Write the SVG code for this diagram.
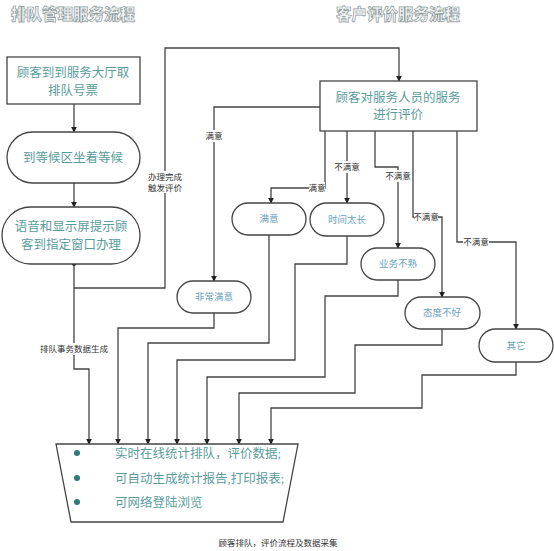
<svg xmlns="http://www.w3.org/2000/svg" width="554" height="551" viewBox="0 0 554 551">
<defs>
<marker id="ah" viewBox="0 0 8 8" refX="7" refY="4" markerWidth="6" markerHeight="6" orient="auto" markerUnits="userSpaceOnUse">
<path d="M0,0 L8,4 L0,8 z" fill="#222"/>
</marker>
<style>
.ln{fill:none;stroke:#444;stroke-width:1.3}
.arr{marker-end:url(#ah)}
.box{fill:#fff;stroke:#444;stroke-width:1.3}
.title{font-family:"Noto Sans CJK SC","Liberation Sans",sans-serif;font-size:15.5px;font-weight:900;fill:#f4f6f6;stroke:#8a9799;stroke-width:0.7}
.big{font-family:"Liberation Serif","Noto Sans CJK SC",serif;font-size:12.5px;fill:#5a9c9c;text-anchor:middle}
.sm{font-family:"Liberation Serif","Noto Sans CJK SC",serif;font-size:9.5px;fill:#6aa2c0;text-anchor:middle}
.lbl{font-family:"Liberation Serif","Noto Sans CJK SC",serif;font-size:8.5px;fill:#333;text-anchor:middle}
.bul{font-family:"Liberation Serif","Noto Sans CJK SC",serif;font-size:12.5px;fill:#5a9c9c}
.cap{font-family:"Liberation Serif","Noto Sans CJK SC",serif;font-size:8.5px;fill:#333;text-anchor:middle}
.lb{fill:#fff}
</style>
</defs>
<rect width="554" height="551" fill="#fff"/>

<text class="title" x="73" y="20" text-anchor="middle">排队管理服务流程</text>
<text class="title" x="398" y="20" text-anchor="middle">客户评价服务流程</text>

<g id="connectors">
<path class="ln arr" d="M74,104 V132"/>
<path class="ln arr" d="M74,183 V207"/>
<path class="ln arr" d="M74,264 V369 H89 V444"/>
<path class="ln arr" d="M74,288 H165 V48 H399 V81"/>
<path class="ln arr" d="M320,107 H214 V281"/>
<path class="ln arr" d="M325,131 V188 H271 V203"/>
<path class="ln arr" d="M347,131 V203"/>
<path class="ln arr" d="M375,131 V167 H398 V248"/>
<path class="ln arr" d="M413,131 V217 H442 V297"/>
<path class="ln arr" d="M457,131 V242 H516 V329"/>
<path class="ln arr" d="M214,313 V328 H118 V444"/>
<path class="ln arr" d="M269,235 V343 H148 V444"/>
<path class="ln arr" d="M347,236 V264 H295 V360 H177 V444"/>
<path class="ln arr" d="M398,280 V296 H325 V377 H207 V444"/>
<path class="ln arr" d="M442,329 V345 H355 V393 H239 V444"/>
<path class="ln arr" d="M516,362 V375 H422 V408 H271 V444"/>
<circle cx="74" cy="264" r="2" fill="#222"/>
<g id="labels">
<rect class="lb" x="152" y="171" width="26" height="22"/>
<text class="lbl" x="165" y="180">办理完成</text>
<text class="lbl" x="165" y="191">触发评价</text>
<rect class="lb" x="38" y="343" width="70" height="12"/>
<text class="lbl" x="74" y="352">排队事务数据生成</text>
<rect class="lb" x="205" y="130" width="18" height="12"/>
<text class="lbl" x="214" y="139">满意</text>
<rect class="lb" x="309" y="182" width="16" height="12"/>
<text class="lbl" x="317" y="191">满意</text>
<rect class="lb" x="334" y="161" width="26" height="12"/>
<text class="lbl" x="347" y="170">不满意</text>
<rect class="lb" x="385" y="170" width="26" height="12"/>
<text class="lbl" x="398" y="179">不满意</text>
<rect class="lb" x="414" y="211" width="24" height="12"/>
<text class="lbl" x="426" y="220">不满意</text>
<rect class="lb" x="463" y="236" width="26" height="12"/>
<text class="lbl" x="476" y="245">不满意</text>
</g>
</g>

<g id="n1"><rect class="box" x="7" y="57" width="133" height="47"/>
<text class="big" x="73" y="77">顾客到到服务大厅取</text>
<text class="big" x="73" y="95">排队号票</text></g>

<g id="n2"><rect class="box" x="7" y="132" width="133" height="51" rx="25.5"/>
<text class="big" x="73" y="162">到等候区坐着等候</text></g>

<g id="n3"><rect class="box" x="2" y="207" width="138" height="57" rx="28.5"/>
<text class="big" x="71" y="231">语音和显示屏提示顾</text>
<text class="big" x="71" y="249">客到指定窗口办理</text></g>

<g id="n4"><rect class="box" x="320" y="81" width="157" height="50"/>
<text class="big" x="398" y="102">顾客对服务人员的服务</text>
<text class="big" x="398" y="119">进行评价</text></g>

<g id="n5"><rect class="box" x="232" y="203" width="74" height="32" rx="16"/>
<text class="sm" x="269" y="222">满意</text></g>

<g id="n6"><rect class="box" x="310" y="203" width="74" height="33" rx="16.5"/>
<text class="sm" x="347" y="223">时间太长</text></g>

<g id="n7"><rect class="box" x="361" y="248" width="74" height="32" rx="16"/>
<text class="sm" x="398" y="267">业务不熟</text></g>

<g id="n8"><rect class="box" x="405" y="297" width="75" height="32" rx="16"/>
<text class="sm" x="442" y="316">态度不好</text></g>

<g id="n9"><rect class="box" x="479" y="329" width="74" height="33" rx="16.5"/>
<text class="sm" x="516" y="349">其它</text></g>

<g id="n10"><rect class="box" x="177" y="281" width="74" height="32" rx="16"/>
<text class="sm" x="214" y="300">非常满意</text></g>

<g id="n11"><path class="box" d="M56,444 H298 L283,522 H71 Z"/>
<circle cx="77" cy="453" r="3" fill="#2e7a78"/>
<circle cx="77" cy="478" r="3" fill="#2e7a78"/>
<circle cx="77" cy="502" r="3" fill="#2e7a78"/>
<text class="bul" x="115" y="458">实时在线统计排队，评价数据;</text>
<text class="bul" x="115" y="483">可自动生成统计报告,打印报表;</text>
<text class="bul" x="115" y="507">可网络登陆浏览</text></g>

<text class="cap" x="278" y="546">顾客排队，评价流程及数据采集</text>
</svg>
